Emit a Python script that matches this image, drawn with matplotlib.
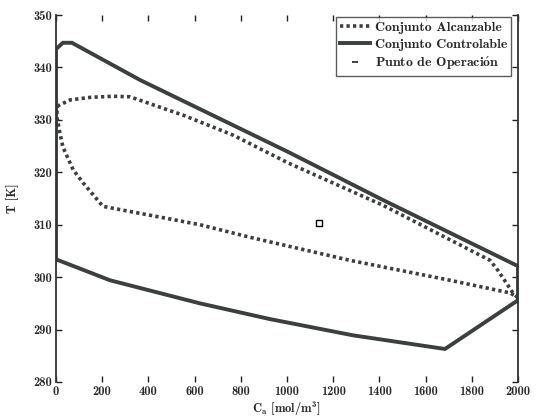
import matplotlib
matplotlib.use("Agg")
import matplotlib.pyplot as plt
from matplotlib.lines import Line2D

plt.rcParams['font.family'] = ['cmb10', 'DejaVu Serif']
plt.rcParams['mathtext.fontset'] = 'custom'
plt.rcParams['mathtext.rm'] = 'cmb10'
plt.rcParams['mathtext.it'] = 'cmb10'
plt.rcParams['mathtext.bf'] = 'cmb10'
plt.rcParams['axes.formatter.use_mathtext'] = False

# Controllable set (closed polygon)
ctrl_c = [0, 0, 30, 69, 364, 1004, 1416, 2000, 2000, 1684, 1286, 926, 623, 234, 0]
ctrl_t = [303.4, 343.5, 344.7, 344.7, 337.6, 323.9, 314.7, 302.1, 295.6, 286.3, 288.9, 292.0, 295.0, 299.4, 303.4]

# Reachable set (closed curve)
reach_c = [5, 61, 150, 247, 320, 550, 766, 1004, 1416, 1879, 1913, 1978, 1996,
           1965, 1706, 1273, 840, 623, 480, 203, 117, 74, 30, 17, 4, 5]
reach_t = [332.6, 333.8, 334.3, 334.5, 334.4, 330.9, 327.1, 321.8, 313.7, 303.2, 301.3, 297.0, 296.2,
           297.0, 299.4, 303.2, 307.6, 310.0, 311.2, 313.5, 318.0, 320.5, 324.8, 327.5, 330.5, 332.6]

# Operating point
op_c = [1140]
op_t = [310.3]

xticks = [0, 200, 400, 600, 800, 1000, 1200, 1400, 1600, 1800, 2000]
yticks = [280, 290, 300, 310, 320, 330, 340, 350]

col = '#3b3f3f'
tcol = '#2a2a2a'

fig = plt.figure(figsize=(5.39, 4.18), dpi=100)
ax = fig.add_axes([56/539, 1-382/418, (518-56)/539, (382-15)/418])

ax.plot(reach_c, reach_t, linestyle=(0, (0.9, 0.9)), color=col, lw=2.6,
        solid_capstyle='butt', dash_capstyle='butt', label='Conjunto Alcanzable')
ax.plot(ctrl_c, ctrl_t, '-', color=col, lw=2.8, solid_joinstyle='miter',
        label='Conjunto Controlable')
ax.plot(op_c, op_t, 's', mfc='white', mec='black', ms=5, mew=1.0, ls='none')

ax.set_xlim(0, 2000)
ax.set_ylim(280, 350)
ax.set_xticks(xticks)
ax.set_yticks(yticks)
ax.tick_params(direction='in', top=True, right=True, length=4, width=1,
               labelsize=9, colors='#222222', labelcolor=tcol, pad=3)
for s in ['top', 'bottom']:
    ax.spines[s].set_visible(False)
for s in ['left', 'right']:
    ax.spines[s].set_linewidth(1.3)
    ax.spines[s].set_color('#333333')

ax.set_xlabel(r'C$_{\mathrm{a}}$ [mol/m$^{\mathrm{3}}$]', fontsize=9, labelpad=1, color=tcol)
ax.set_ylabel('T [K]', fontsize=9, labelpad=10, color=tcol)

handles = [
    Line2D([], [], linestyle=(0, (0.9, 0.9)), color=col, lw=2.6),
    Line2D([], [], linestyle='-', color=col, lw=2.8),
    Line2D([], [], marker='_', color='#222222', ls='none', ms=5, mew=1.2),
]
labels = ['Conjunto Alcanzable', 'Conjunto Controlable', r'Punto de Operaci$\acute{\mathrm{o}}$n']
leg = ax.legend(handles, labels, loc='upper right', fontsize=10, frameon=True,
                fancybox=False, edgecolor='#333333', handlelength=2.2,
                handletextpad=0.3, borderpad=0.3, labelspacing=0.3,
                borderaxespad=0.0, bbox_to_anchor=(0.985, 0.995))
leg.get_frame().set_linewidth(1.0)
for t in leg.get_texts():
    t.set_color(tcol)

fig.savefig('out.png', dpi=100)
